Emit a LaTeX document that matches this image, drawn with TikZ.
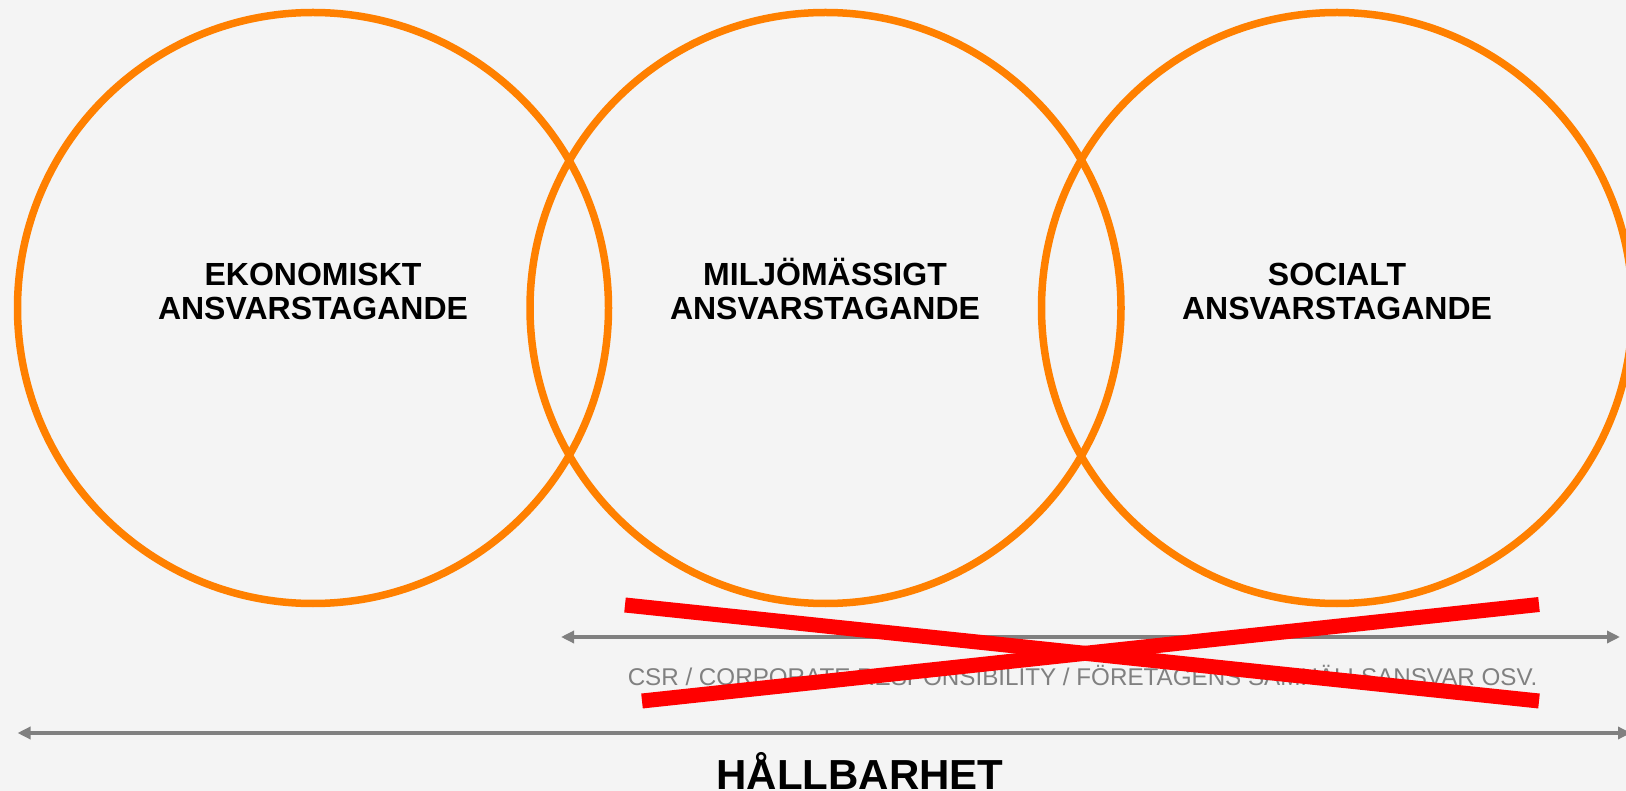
\documentclass[tikz,border=0pt]{standalone}
\usepackage{fontspec}
\setmainfont{Liberation Sans}
\usetikzlibrary{arrows.meta}
\definecolor{bg}{HTML}{F4F4F4}
\definecolor{ring}{HTML}{FF8000}
\definecolor{cross}{HTML}{FF0000}
\definecolor{axis}{HTML}{808080}
\tikzset{
  ringnode/.style={circle,draw=ring,line width=7.5pt,minimum size=591pt,inner sep=0pt},
  lbl/.style={anchor=base,inner sep=0pt,font=\fontsize{32}{34}\selectfont\bfseries},
  span/.style={draw=axis,line width=4pt,{Triangle[length=13pt,width=12pt]}-{Triangle[length=13pt,width=12pt]}},
  xline/.style={draw=cross,line width=15pt},
}
\begin{document}
\begin{tikzpicture}[x=1pt,y=-1pt]
\fill[bg] (0,0) rectangle (1626,791);
\useasboundingbox (0,0) rectangle (1626,791);
\begin{scope}
\clip (0,0) rectangle (1626,791);
\node[ringnode] (c1) at (313,308) {};
\node[ringnode] (c2) at (825.5,308) {};
\node[ringnode] (c3) at (1337,308) {};

\node[lbl] (l1a) at (313,285.5) {EKONOMISKT};
\node[lbl] (l1b) at (313,320) {ANSVARSTAGANDE};
\node[lbl] (l2a) at (825,285.5) {MILJÖMÄSSIGT};
\node[lbl] (l2b) at (825,320) {ANSVARSTAGANDE};
\node[lbl] (l3a) at (1337,285.5) {SOCIALT};
\node[lbl] (l3b) at (1337,320) {ANSVARSTAGANDE};

\coordinate (a1) at (561,637);
\coordinate (a2) at (1620,637);
\draw[span] (a1) -- (a2);
\node[anchor=base,inner sep=0pt,text=axis,font=\fontsize{24.2}{28}\selectfont] (csr) at (1082.5,685.5) {CSR / CORPORATE RESPONSIBILITY / FÖRETAGENS SAMHÄLLSANSVAR OSV.};

\coordinate (x1s) at (625,605);
\coordinate (x1e) at (1539,701);
\coordinate (x2s) at (642,701);
\coordinate (x2e) at (1539,604.5);
\draw[xline] (x1s) -- (x1e);
\draw[xline] (x2s) -- (x2e);

\coordinate (b1) at (17.5,733);
\coordinate (b2) at (1631,733);
\draw[span] (b1) -- (b2);
\node[anchor=base,inner sep=0pt,font=\fontsize{42}{46}\selectfont\bfseries] (hall) at (860,789) {HÅLLBARHET};
\end{scope}
\end{tikzpicture}
\end{document}
